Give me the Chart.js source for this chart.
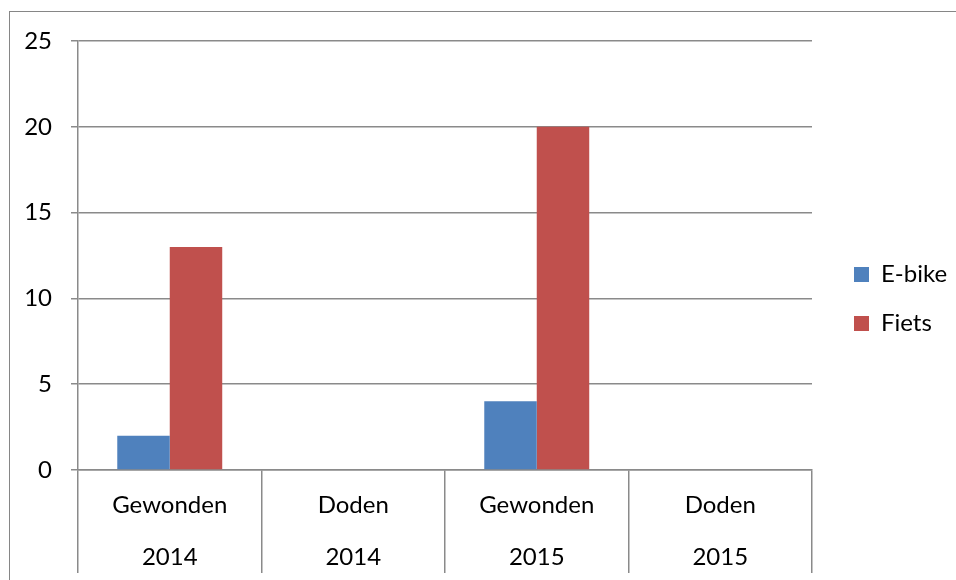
<!DOCTYPE html>
<html>
<head>
<meta charset="utf-8">
<script src="https://cdn.jsdelivr.net/npm/chart.js@4.4.1/dist/chart.umd.min.js"></script>
<style>
  html, body { margin: 0; padding: 0; background: #fff; overflow: hidden; }
  #wrap { position: relative; width: 956px; height: 580px; }
  /* outer chart frame, clipped by the window on the right and bottom */
  #frame { position: absolute; left: 9px; top: 11px; width: 1000px; height: 1000px; border: 1px solid #868686; }
  #c { position: absolute; left: 0; top: 0; }
</style>
</head>
<body>
<div id="wrap"><div id="frame"></div><canvas id="c" width="956" height="580"></canvas></div>
<script>
// data
const categories = [['Gewonden', '2014'], ['Doden', '2014'], ['Gewonden', '2015'], ['Doden', '2015']];
const seriesNames = ['E-bike', 'Fiets'];
const ebike = [2, 0, 4, 0];
const fiets = [13, 0, 20, 0];
const yTicks = [0, 5, 10, 15, 20, 25];

// look
const FONT = 'Lato';
const FS = 24;
const GRID = '#8a8a8a';
const colors = ['#4F81BD', '#C0504D'];

// layout numbers (pixels in the 956x580 picture)
const plotLeft = 78, plotTop = 41, plotRight = 812, plotBottom = 470;
const legendBoxX = 854, legendBoxTop = 267, legendStep = 49, box = 15;
const sepLength = 103;      // category separators below the axis
const rowGap = 52;          // distance between the two label rows
const firstRowY = 505;

const legendPad = legendStep - FS;
const legendLeft = legendBoxX - legendPad;
const mctx = document.createElement('canvas').getContext('2d');
mctx.font = 'normal ' + FS + 'px ' + FONT;
const textW = Math.max(...seriesNames.map(t => mctx.measureText(t).width));
const padR = Math.max(0, 956 - legendLeft - (legendPad + box + FS / 2 + textW + 10));
// empty legend title used as a spacer so the entries sit at the right height
const legendSpacer = legendBoxTop - (FS - box) / 2 - plotTop - legendPad;

Chart.defaults.font.family = FONT;
Chart.defaults.color = '#000';

new Chart(document.getElementById('c'), {
  type: 'bar',
  data: {
    labels: categories,
    datasets: [
      { label: seriesNames[0], data: ebike, backgroundColor: colors[0], borderWidth: 0 },
      { label: seriesNames[1], data: fiets, backgroundColor: colors[1], borderWidth: 0 }
    ]
  },
  options: {
    responsive: false,
    devicePixelRatio: 1,
    animation: false,
    categoryPercentage: 0.572,
    barPercentage: 1,
    layout: { padding: { left: 0, top: plotTop, right: padR, bottom: 0 } },
    scales: {
      x: {
        offset: true,
        grid: { offset: true, drawOnChartArea: false, color: GRID, lineWidth: 1.5, tickLength: sepLength },
        border: { display: true, color: GRID, width: 1.5 },
        ticks: {
          maxRotation: 0, autoSkip: false,
          font: { size: FS, lineHeight: rowGap + 'px' },
          padding: firstRowY - plotBottom - sepLength - rowGap / 2
        },
        afterFit: s => { s.height = 580 - plotBottom; }
      },
      y: {
        min: yTicks[0], max: yTicks[yTicks.length - 1],
        ticks: { stepSize: yTicks[1] - yTicks[0], font: { size: FS }, padding: 19 },
        grid: { color: GRID, lineWidth: 1.5, tickLength: 7 },
        border: { display: true, color: GRID, width: 1.5 },
        afterFit: s => { s.width = plotLeft; }
      },
      // empty spacer between plot and legend
      gap: {
        type: 'linear', position: 'right', display: true,
        grid: { display: false }, border: { display: false }, ticks: { display: false },
        afterFit: s => { s.width = legendLeft - plotRight; }
      }
    },
    plugins: {
      tooltip: { enabled: false },
      legend: {
        position: 'right',
        align: 'start',
        maxWidth: 956 - padR - legendLeft,
        title: { display: true, text: '', padding: 0, font: { size: 10, lineHeight: legendSpacer + 'px' } },
        labels: { boxWidth: box, boxHeight: box, padding: legendPad, color: '#000', font: { size: FS } }
      }
    }
  }
});
</script>
</body>
</html>
